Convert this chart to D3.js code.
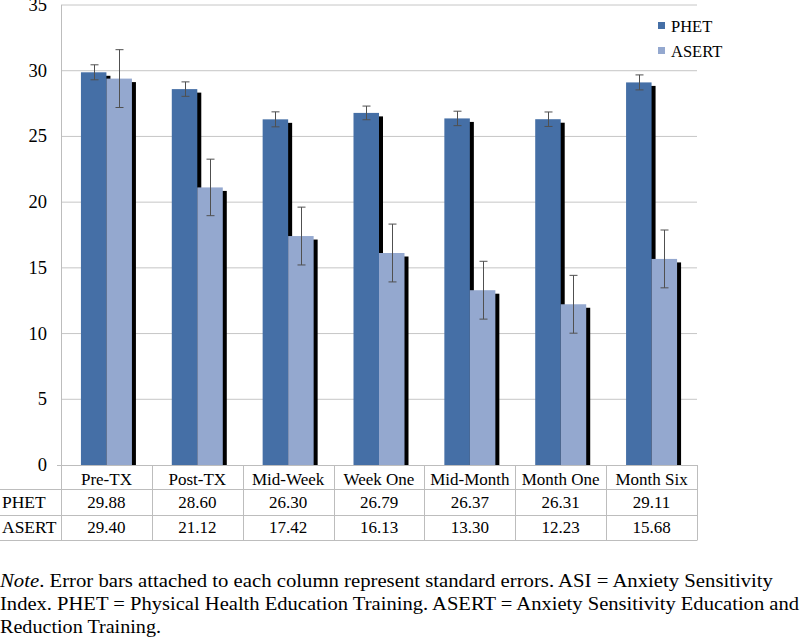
<!DOCTYPE html>
<html><head><meta charset="utf-8">
<script src="https://cdn.jsdelivr.net/npm/d3@7"></script>
</head><body style="margin:0">
<svg id="c" width="800" height="637" style="display:block;background:#fff"></svg>
<script>
const categories = ["Pre-TX","Post-TX","Mid-Week","Week One","Mid-Month","Month One","Month Six"];
const seriesNames = ["PHET","ASERT"];
const phet = [29.88,28.60,26.30,26.79,26.37,26.31,29.11];
const asert = [29.40,21.12,17.42,16.13,13.30,12.23,15.68];
const phetSE = [0.57,0.55,0.57,0.52,0.55,0.55,0.57];
const asertSE = [2.2,2.15,2.2,2.2,2.2,2.2,2.2];
const yTicks = [0,5,10,15,20,25,30,35];
const colors = ["#456fa6","#94a8cf"];
const FONT = '"Liberation Serif"';

const svg = d3.select("#c");
const L=61, R=697, T=5, B=465;
const x = d3.scaleBand().domain(categories).range([L,R]).paddingInner(0).paddingOuter(0);
const y = d3.scaleLinear().domain([0,35]).range([B,T]);
const bw = 25.5;
const groupOff = (x.bandwidth()-2*bw)/2;

function txt(sel, size){ return sel.style("font-family",FONT,"important").style("font-size",size+"px").style("fill","#000"); }

// gridlines
svg.append("g").selectAll("line").data(yTicks.filter(d=>d>0)).join("line")
  .attr("x1",L).attr("x2",R).attr("y1",d=>y(d)).attr("y2",d=>y(d))
  .attr("stroke","#c6c6c6").attr("stroke-width",1);

// y axis labels
txt(svg.append("g").selectAll("text").data(yTicks).join("text")
  .attr("x",47).attr("y",d=>y(d)+6).attr("text-anchor","end").text(d=>d), 18.5);

const series = [phet, asert];
const ses = [phetSE, asertSE];
const bars = svg.append("g");
series.forEach((vals,s)=>{
  const g = bars.append("g");
  g.selectAll("rect.sh").data(vals).join("rect").attr("class","sh")
    .attr("x",(d,i)=>x(categories[i])+groupOff+s*bw+4)
    .attr("y",d=>y(d)+3.5).attr("width",bw).attr("height",d=>B-y(d)-3.5)
    .attr("fill","#000");
  g.selectAll("rect.b").data(vals).join("rect").attr("class","b")
    .attr("x",(d,i)=>x(categories[i])+groupOff+s*bw)
    .attr("y",d=>y(d)).attr("width",bw).attr("height",d=>B-y(d))
    .attr("fill",colors[s]);
});
// error bars
series.forEach((vals,s)=>{
  const g = svg.append("g").attr("stroke","#505050").attr("stroke-width",1);
  vals.forEach((v,i)=>{
    const cx = Math.round(x(categories[i])+groupOff+s*bw+bw/2)+0.5;
    const hi = y(v+ses[s][i]), lo = y(v-ses[s][i]);
    g.append("line").attr("x1",cx).attr("x2",cx).attr("y1",hi).attr("y2",lo);
    g.append("line").attr("x1",cx-4).attr("x2",cx+4).attr("y1",hi).attr("y2",hi);
    g.append("line").attr("x1",cx-4).attr("x2",cx+4).attr("y1",lo).attr("y2",lo);
  });
});

// axes lines & table
const tb = svg.append("g").attr("stroke","#bdbdbd").attr("stroke-width",1);
const rowY = [465,489.5,515.5,540.5];
tb.append("line").attr("x1",57).attr("x2",R).attr("y1",B+0.5).attr("y2",B+0.5);
tb.append("line").attr("x1",L+0.5).attr("x2",L+0.5).attr("y1",T).attr("y2",rowY[3]);
[rowY[1],rowY[2],rowY[3]].forEach(yy=>tb.append("line").attr("x1",0).attr("x2",R).attr("y1",yy).attr("y2",yy));
categories.forEach((c,i)=>{
  const xx = Math.round(x(c)+x.bandwidth())+0.5;
  tb.append("line").attr("x1",xx).attr("x2",xx).attr("y1",B).attr("y2",rowY[3]);
});
const tt = svg.append("g");
txt(tt.selectAll("text.cat").data(categories).join("text").attr("class","cat").attr("text-anchor","middle")
  .attr("x",d=>x(d)+x.bandwidth()/2).attr("y",484.5).text(d=>d), 17);
series.forEach((vals,s)=>{
  txt(tt.selectAll("text.v"+s).data(vals).join("text").attr("class","v"+s).attr("text-anchor","middle")
    .attr("x",(d,i)=>x(categories[i])+x.bandwidth()/2).attr("y",507.5+s*25.5).text(d=>d.toFixed(2)), 17);
});
txt(svg.append("g").selectAll("text").data(seriesNames).join("text")
  .attr("x",2).attr("y",(d,i)=>507.5+i*25.5).text(d=>d), 17.5);

// legend
const lg = svg.append("g");
seriesNames.forEach((n,i)=>{
  lg.append("rect").attr("x",658).attr("y",22+i*25).attr("width",7).attr("height",7).attr("fill",colors[i]);
  txt(lg.append("text").attr("x",671).attr("y",32+i*25).text(n), 16.5);
});

// note
const note = svg.append("g");
const t1 = txt(note.append("text").attr("x",0).attr("y",587).attr("textLength",773).attr("lengthAdjust","spacingAndGlyphs"), 18.5);
t1.append("tspan").style("font-style","italic").text("Note");
t1.append("tspan").text(". Error bars attached to each column represent standard errors. ASI = Anxiety Sensitivity");
txt(note.append("text").attr("x",0).attr("y",610).attr("textLength",799).attr("lengthAdjust","spacingAndGlyphs")
  .text("Index. PHET = Physical Health Education Training. ASERT = Anxiety Sensitivity Education and"), 18.5);
txt(note.append("text").attr("x",0).attr("y",633).attr("textLength",161).attr("lengthAdjust","spacingAndGlyphs")
  .text("Reduction Training."), 18.5);
</script>
</body></html>
